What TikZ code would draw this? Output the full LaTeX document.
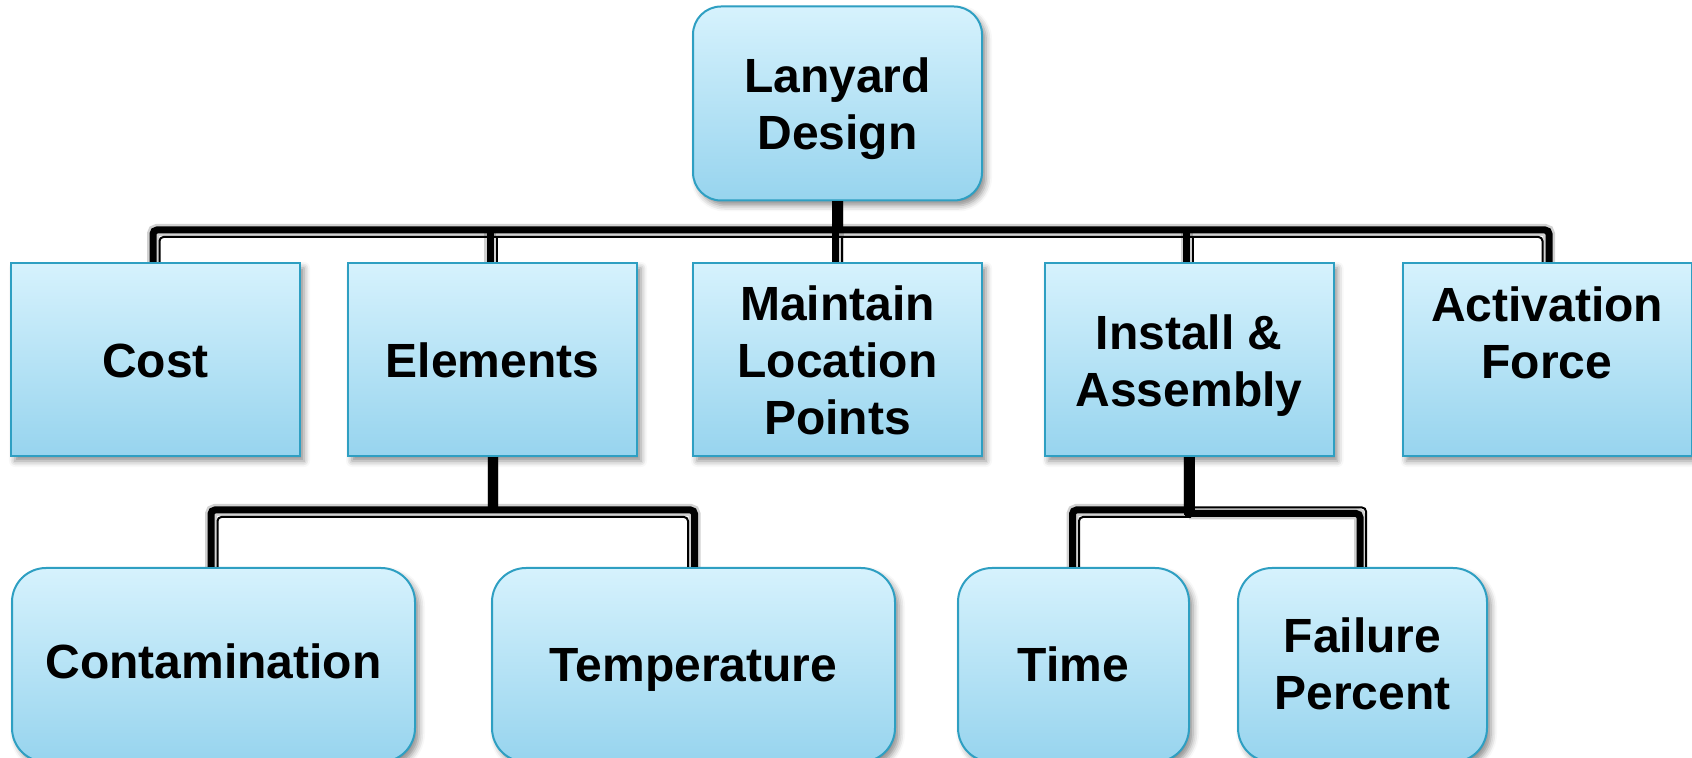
\documentclass[tikz,border=0pt]{standalone}
\usepackage{fontspec}
\setmainfont{Liberation Sans}
\usetikzlibrary{calc,shadows.blur}
\definecolor{boxtop}{HTML}{D6F2FD}
\definecolor{boxbot}{HTML}{97D4EE}
\definecolor{boxline}{HTML}{2E9FC2}
% centred lines of text, moved up or down without changing the box size
\newcommand\boxtext[2]{\raisebox{#1}[\height][\depth]{\begin{tabular}{@{}c@{}}#2\end{tabular}}}
\tikzset{
  box/.style={draw=boxline, line width=1pt, top color=boxtop, bottom color=boxbot,
    inner sep=0pt, font=\bfseries\fontsize{24}{28.5}\selectfont,
    blur shadow={shadow xshift=2pt, shadow yshift=-2.5pt, shadow blur radius=3pt, shadow opacity=45}},
  sqbox/.style={box, minimum width=144.5pt, minimum height=96.5pt},
  rbox/.style={box, rounded corners=17pt, minimum height=97pt},
  heavy/.style={draw=black, line width=3.5pt, rounded corners=2pt},
  stem/.style={draw=black, line width=5.5pt},
  fine/.style={draw=black, line width=1pt, rounded corners=2pt},
  haze/.style={draw=black, opacity=0.18, line width=6pt, shift={(1.5pt,-3pt)}},
}
\begin{document}
\begin{tikzpicture}[x=0.5pt,y=-0.5pt]
\useasboundingbox (0,0) rectangle (1692,758);
\clip (0,0) rectangle (1692,758);

% boxes
\node[rbox, rounded corners=14pt, minimum width=144.5pt] (top) at (837.5,103.5) {\boxtext{-3.2pt}{Lanyard\\Design}};

\node[sqbox] (cost)  at (155.5,359.5) {\boxtext{-3.4pt}{Cost}};
\node[sqbox] (elem)  at (492.5,359.5) {\boxtext{-3.4pt}{Elements}};
\node[sqbox] (maint) at (837.5,359.5) {\boxtext{-3.4pt}{Maintain\\Location\\Points}};
\node[sqbox] (inst)  at (1189,359.5)  {\boxtext{-3.4pt}{Install \&\\Assembly}};
\node[sqbox] (act)   at (1547,359.5)  {\boxtext{10.6pt}{Activation\\Force}};

\node[rbox, minimum width=201.5pt] (cont) at (213.5,665)  {\boxtext{-0.8pt}{Contamination}};
\node[rbox, minimum width=201.5pt] (temp) at (693.5,665)  {\boxtext{-2.5pt}{Temperature}};
\node[rbox, minimum width=115.5pt] (time) at (1073.5,665) {\boxtext{-2.5pt}{Time}};
\node[rbox, minimum width=124.5pt] (fail) at (1362.5,665) {\boxtext{-2.5pt}{Failure\\Percent}};

% bus levels
\coordinate (busA)  at (0,230);
\coordinate (busAi) at (0,237);
\coordinate (busB)  at (0,510);
\coordinate (busBi) at (0,517);
\coordinate (busBr) at (0,513.5);
\coordinate (busBt) at (0,507.5);

% drop points, heavy and fine strands
\coordinate (cL)  at ($(cost.north)+(-2.5,0)$);
\coordinate (cLi) at ($(cost.north)+(4,0)$);
\coordinate (aR)  at ($(act.north)+(2,0)$);
\coordinate (aRi) at ($(act.north)+(-4.5,0)$);
\coordinate (eD)  at ($(elem.north)+(-2.5,0)$);
\coordinate (eDi) at ($(elem.north)+(4,0)$);
\coordinate (mD)  at ($(maint.north)+(-2,0)$);
\coordinate (mDi) at ($(maint.north)+(4.5,0)$);
\coordinate (iD)  at ($(inst.north)+(-2.5,0)$);
\coordinate (iDi) at ($(inst.north)+(4,0)$);

\coordinate (eS)  at (elem.south);
\coordinate (kL)  at ($(cont.north)+(-2.5,0)$);
\coordinate (kLi) at ($(cont.north)+(4,0)$);
\coordinate (tR)  at ($(temp.north)+(1,0)$);
\coordinate (tRi) at ($(temp.north)+(-5.5,0)$);

\coordinate (iS)  at (inst.south);
\coordinate (wL)  at ($(time.north)+(-1,0)$);
\coordinate (wLi) at ($(time.north)+(5.5,0)$);
\coordinate (fR)  at ($(fail.north)+(-2.5,0)$);
\coordinate (fRo) at ($(fail.north)+(3.5,0)$);

% soft shadows under the connectors
\draw[haze, rounded corners=2pt] (cL) |- (aR |- busA) -- (aR);
\draw[haze] (top.south) -- (maint.north);
\draw[haze] (eD) -- (eD |- busA);
\draw[haze] (iD) -- (iD |- busA);
\draw[haze] (eS) -- (eS |- busB);
\draw[haze, rounded corners=2pt] (kL) |- (tR |- busB) -- (tR);
\draw[haze] (iS) -- (iS |- busB);
\draw[haze, rounded corners=2pt] (wL) |- (iS |- busB);
\draw[haze, rounded corners=2pt] (iS |- busBr) -| (fR);

% first level
\draw[heavy] (cL) |- (aR |- busA) -- (aR);
\draw[fine]  (cLi) |- (aRi |- busAi) -- (aRi);
\draw[stem]  (top.south) -- (top.south |- busA);
\draw[heavy] (mD |- busA) -- (mD);
\draw[fine]  (mDi |- busAi) -- (mDi);
\draw[heavy] (eD |- busA) -- (eD);
\draw[fine]  (eDi |- busAi) -- (eDi);
\draw[heavy] (iD |- busA) -- (iD);
\draw[fine]  (iDi |- busAi) -- (iDi);

% below Elements
\draw[stem, line width=5pt] (eS) -- ($(eS |- busB)+(0,2)$);
\draw[heavy] (kL) |- (tR |- busB) -- (tR);
\draw[fine]  (kLi) |- (tRi |- busBi) -- (tRi);

% below Install & Assembly
\draw[stem]  (iS) -- ($(iS |- busBr)+(0,2)$);
\draw[heavy] (wL) |- ($(iS |- busB)+(4,0)$);
\draw[fine]  (wLi) |- ($(iS |- busBi)+(2,0)$);
\draw[heavy] ($(iS |- busBr)+(-4,0)$) -| (fR);
\draw[fine]  ($(iS |- busBt)+(5.5,0)$) -| (fRo);
\end{tikzpicture}
\end{document}
